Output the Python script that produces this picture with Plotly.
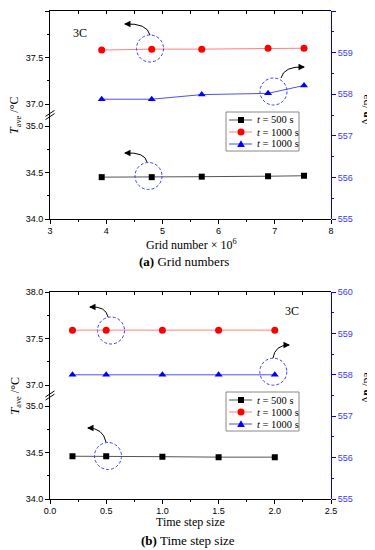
import plotly.graph_objects as go

# The page body has an 8px margin, so the figure is drawn 8px in from the
# top-left corner of the window; layout is computed in window pixels.
PAGE_W, PAGE_H = 375, 550
OFF = 8
W, H = PAGE_W - OFF, PAGE_H - OFF

# ---------------- data ----------------
grid_numbers = [3.92, 4.81, 5.70, 6.88, 7.52]
grid_T500 = [34.45, 34.45, 34.455, 34.46, 34.465]
grid_T1000 = [37.58, 37.59, 37.59, 37.60, 37.60]
grid_dp1000 = [557.88, 557.88, 557.99, 558.02, 558.21]

time_steps = [0.2, 0.5, 1.0, 1.5, 2.0]
time_T500 = [34.46, 34.46, 34.455, 34.45, 34.45]
time_T1000 = [37.59, 37.59, 37.59, 37.59, 37.59]
time_dp1000 = [558.0, 558.0, 558.0, 558.0, 558.0]

legend_labels = ["<i>t</i> = 500 s", "<i>t</i> = 1000 s", "<i>t</i> = 1000 s"]


def px(x):
    return (x - OFF) / W


def py(y):
    return 1 - (y - OFF) / H


SERIF = "Liberation Serif"
SANS = "Liberation Sans"
BLUE = "#0000ff"
LBLUE = "#3a3aff"

fig = go.Figure()

panels = [
    dict(top=11, brk=115, bot=219, x=grid_numbers, T500=grid_T500,
         T1000=grid_T1000, dp=grid_dp1000, xr=[3, 8], dtick=1, minor=0.5, fmt="d",
         xb="x", xt="x2", yu="y", yl="y2", yr="y3", rt=110),
    dict(top=292, brk=395.5, bot=499, x=time_steps, T500=time_T500,
         T1000=time_T1000, dp=time_dp1000, xr=[0, 2.5], dtick=0.5, minor=0.25, fmt=".1f",
         xb="x3", xt="x4", yu="y4", yl="y5", yr="y6", rt=388),
]

L, R = 50, 331
scale = 93.0
layout_axes = {}
shapes = []
annotations = []


def axname(a):
    return a[0] + "axis" + a[1:]


def text_ann(x, y, text, size=12, angle=0, xanchor="center"):
    return dict(xref="paper", yref="paper", x=px(x), y=py(y), text=text,
                showarrow=False, textangle=angle, xanchor=xanchor, yanchor="middle",
                font=dict(family=SERIF, size=size, color="black"))


for p in panels:
    fig.add_trace(go.Scatter(
        x=p["x"], y=p["T500"], xaxis=p["xb"], yaxis=p["yl"], mode="lines+markers",
        marker=dict(symbol="square", size=6, color="black"),
        line=dict(color="#555555", width=1), showlegend=False, name="t = 500 s"))
    fig.add_trace(go.Scatter(
        x=p["x"], y=p["T1000"], xaxis=p["xt"], yaxis=p["yu"], mode="lines+markers",
        marker=dict(symbol="circle", size=7, color="#ff0000"),
        line=dict(color="#ff8080", width=1), showlegend=False, name="t = 1000 s"))
    fig.add_trace(go.Scatter(
        x=p["x"], y=p["dp"], xaxis=p["xb"], yaxis=p["yr"], mode="lines+markers",
        marker=dict(symbol="triangle-up", size=7, color=BLUE),
        line=dict(color="#4d4dff", width=1), showlegend=False, name="t = 1000 s"))

    top, brk, bot = p["top"], p["brk"], p["bot"]
    xdom = [px(L), px(R)]
    common = dict(showgrid=False, zeroline=False, showline=True, linewidth=1,
                  automargin=False)
    layout_axes[axname(p["xb"])] = dict(
        domain=xdom, anchor=p["yl"], range=p["xr"], tick0=p["xr"][0], dtick=p["dtick"],
        ticks="outside", ticklen=4, tickcolor="black", linecolor="black",
        tickformat=p["fmt"], tickfont=dict(family=SANS, size=9, color="black"),
        ticklabelstandoff=-1,
        minor=dict(ticks="outside", ticklen=2, dtick=p["minor"], tick0=p["xr"][0],
                   tickcolor="black"),
        **common)
    layout_axes[axname(p["xt"])] = dict(
        domain=xdom, anchor=p["yu"], side="top", range=p["xr"], tick0=p["xr"][0],
        dtick=p["minor"], ticks="inside", ticklen=3, tickcolor="black",
        linecolor="black", showticklabels=False, **common)
    layout_axes[axname(p["yu"])] = dict(
        domain=[py(brk), py(top)], anchor=p["xb"], range=[38 - (brk - top) / scale, 38],
        tick0=37, dtick=0.5, ticks="outside", ticklen=4, tickcolor="black",
        linecolor="black", tickformat=".1f",
        tickfont=dict(family=SANS, size=9, color="black"),
        minor=dict(ticks="outside", ticklen=2, dtick=0.25, tick0=37, tickcolor="black"),
        **common)
    layout_axes[axname(p["yl"])] = dict(
        domain=[py(bot), py(brk)], anchor=p["xb"], range=[34, 34 + (bot - brk) / scale],
        tick0=34, dtick=0.5, ticks="outside", ticklen=4, tickcolor="black",
        linecolor="black", tickformat=".1f",
        tickfont=dict(family=SANS, size=9, color="black"),
        minor=dict(ticks="outside", ticklen=2, dtick=0.25, tick0=34, tickcolor="black"),
        **common)
    layout_axes[axname(p["yr"])] = dict(
        domain=[py(bot), py(top)], anchor=p["xb"], side="right", range=[555, 560],
        tick0=555, dtick=1, ticks="outside", ticklen=4, tickcolor=BLUE,
        linecolor=BLUE, tickfont=dict(family=SANS, size=9, color=LBLUE),
        minor=dict(ticks="outside", ticklen=2, dtick=0.5, tick0=555, tickcolor=BLUE),
        **common)

    # axis break marks
    for dy in (-1.6, 1.6):
        shapes.append(dict(type="line", xref="paper", yref="paper",
                           x0=px(L - 4.5), y0=py(brk + dy + 3), x1=px(L + 4.5), y1=py(brk + dy - 3),
                           line=dict(color="black", width=1)))

    mid = (top + bot) / 2 + 1
    annotations.append(text_ann(15, mid, "<i>T</i><sub>ave</sub> /°C", angle=-90))
    annotations.append(text_ann(365.5, p["rt"], "Δ<b><i>p</i></b> /pa", angle=-90))

annotations += [
    text_ann(191, 244, "Grid number × 10<sup>6</sup>", 12),
    text_ann(184, 261, "<b>(a)</b> Grid numbers", 13),
    text_ann(190, 522, "Time step size", 12),
    text_ann(188, 540.5, "<b>(b)</b> Time step size", 13),
    text_ann(80, 33, "3C", 12),
    text_ann(292, 311, "3C", 12),
]

# dashed circles
circles = [(150, 48.5), (273.5, 91.5), (148.5, 176), (111, 330.5), (273.3, 371.7), (108, 456)]
rr = 13.5
for cx, cy in circles:
    shapes.append(dict(type="circle", xref="paper", yref="paper",
                       x0=px(cx - rr), x1=px(cx + rr), y0=py(cy + rr), y1=py(cy - rr),
                       line=dict(color=LBLUE, width=1, dash="3px,2px")))

# curved arrows: start, control, head, direction
arrows = [
    ((150, 35), (147, 23), (124, 24), -1),
    ((281, 78), (284, 66), (305, 67), 1),
    ((147, 162), (145, 152), (124, 153), -1),
    ((108, 317), (106, 306), (89, 307), -1),
    ((273, 358), (275, 345), (290, 345), 1),
    ((106, 442), (103, 428), (87, 428), -1),
]
for (sx, sy), (cx, cy), (hx, hy), d in arrows:
    path = "M {:.5f},{:.5f} Q {:.5f},{:.5f} {:.5f},{:.5f}".format(
        px(sx), py(sy), px(cx), py(cy), px(hx - d * 1), py(hy))
    shapes.append(dict(type="path", xref="paper", yref="paper", path=path,
                       line=dict(color="black", width=1)))
    annotations.append(dict(xref="paper", yref="paper", x=px(hx), y=py(hy), ax=-d * 6, ay=0,
                            text="", showarrow=True, arrowhead=2, arrowsize=1.3,
                            arrowwidth=1, arrowcolor="black"))

# legends (drawn by hand to match the compact row spacing)
legend_styles = [
    dict(symbol="square", color="black", line="#555555"),
    dict(symbol="circle", color="#ff0000", line="#ff8080"),
    dict(symbol="triangle", color=BLUE, line="#4d4dff"),
]
for box_top in (112, 392):
    shapes.append(dict(type="rect", xref="paper", yref="paper",
                       x0=px(226), x1=px(299), y0=py(box_top + 39), y1=py(box_top),
                       line=dict(color="#888888", width=1), fillcolor="white", layer="above"))
    for i, (lab, st) in enumerate(zip(legend_labels, legend_styles)):
        ry = box_top + 8 + i * 12
        shapes.append(dict(type="line", xref="paper", yref="paper",
                           x0=px(229), x1=px(252), y0=py(ry), y1=py(ry),
                           line=dict(color=st["line"], width=1), layer="above"))
        mx = 241
        if st["symbol"] == "square":
            shapes.append(dict(type="rect", xref="paper", yref="paper",
                               x0=px(mx - 3), x1=px(mx + 3), y0=py(ry + 3), y1=py(ry - 3),
                               fillcolor=st["color"], line=dict(width=0), layer="above"))
        elif st["symbol"] == "circle":
            shapes.append(dict(type="circle", xref="paper", yref="paper",
                               x0=px(mx - 3.5), x1=px(mx + 3.5), y0=py(ry + 3.5), y1=py(ry - 3.5),
                               fillcolor=st["color"], line=dict(width=0), layer="above"))
        else:
            path = "M {:.5f},{:.5f} L {:.5f},{:.5f} L {:.5f},{:.5f} Z".format(
                px(mx - 3.8), py(ry + 3), px(mx + 3.8), py(ry + 3), px(mx), py(ry - 3.8))
            shapes.append(dict(type="path", xref="paper", yref="paper", path=path,
                               fillcolor=st["color"], line=dict(width=0), layer="above"))
        annotations.append(text_ann(255, ry, lab, 10.5, xanchor="left"))

fig.update_layout(
    width=W, height=H,
    margin=dict(l=0, r=0, t=0, b=0),
    paper_bgcolor="white",
    plot_bgcolor="rgba(0,0,0,0)",
    showlegend=False,
    shapes=shapes,
    annotations=annotations,
    **layout_axes,
)

fig.write_html("out.html")
